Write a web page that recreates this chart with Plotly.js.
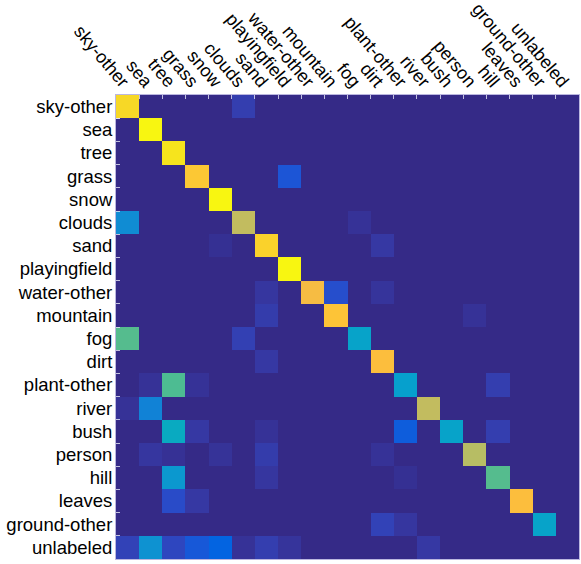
<!DOCTYPE html>
<html>
<head>
<meta charset="utf-8">
<script src="https://cdn.plot.ly/plotly-3.0.1.min.js"></script>
<style>
  html, body { margin: 0; padding: 0; background: #fff; }
  #graph { width: 581px; height: 564px; }
</style>
</head>
<body>
<div id="graph"></div>
<script>
// class labels (rows = true class, columns = predicted)
const classes = ['sky-other', 'sea', 'tree', 'grass', 'snow', 'clouds', 'sand', 'playingfield',
  'water-other', 'mountain', 'fog', 'dirt', 'plant-other', 'river', 'bush', 'person', 'hill',
  'leaves', 'ground-other', 'unlabeled']

// normalized confusion values
const confusion = [
  [0.92, 0, 0, 0, 0, 0.05, 0, 0, 0, 0, 0, 0, 0, 0, 0, 0, 0, 0, 0, 0],
  [0, 0.99, 0, 0, 0, 0, 0, 0, 0, 0, 0, 0, 0, 0, 0, 0, 0, 0, 0, 0],
  [0, 0, 0.95, 0, 0, 0, 0, 0, 0, 0, 0, 0, 0, 0, 0, 0, 0, 0, 0, 0],
  [0, 0, 0, 0.87, 0, 0, 0, 0.1, 0, 0, 0, 0, 0, 0, 0, 0, 0, 0, 0, 0],
  [0, 0, 0, 0, 0.99, 0, 0, 0, 0, 0, 0, 0, 0, 0, 0, 0, 0, 0, 0, 0],
  [0.28, 0, 0, 0, 0, 0.72, 0, 0, 0, 0, 0.02, 0, 0, 0, 0, 0, 0, 0, 0, 0],
  [0, 0, 0, 0, 0.015, 0, 0.9, 0, 0, 0, 0, 0.035, 0, 0, 0, 0, 0, 0, 0, 0],
  [0, 0, 0, 0, 0, 0, 0, 0.99, 0, 0, 0, 0, 0, 0, 0, 0, 0, 0, 0, 0],
  [0, 0, 0, 0, 0, 0, 0.03, 0, 0.825, 0.085, 0, 0.025, 0, 0, 0, 0, 0, 0, 0, 0],
  [0, 0, 0, 0, 0, 0, 0.045, 0, 0, 0.86, 0, 0, 0, 0, 0, 0.02, 0, 0, 0, 0],
  [0.55, 0, 0, 0, 0, 0.055, 0, 0, 0, 0, 0.365, 0, 0, 0, 0, 0, 0, 0, 0, 0],
  [0, 0, 0, 0, 0, 0, 0.035, 0, 0, 0, 0, 0.84, 0, 0, 0, 0, 0, 0, 0, 0],
  [0, 0.02, 0.54, 0.02, 0, 0, 0, 0, 0, 0, 0, 0, 0.35, 0, 0, 0, 0.05, 0, 0, 0],
  [0.02, 0.24, 0, 0, 0, 0, 0, 0, 0, 0, 0, 0, 0, 0.72, 0, 0, 0, 0, 0, 0],
  [0, 0, 0.4, 0.035, 0, 0, 0.02, 0, 0, 0, 0, 0, 0.115, 0, 0.365, 0, 0.05, 0, 0, 0],
  [0, 0.03, 0.018, 0, 0.022, 0, 0.045, 0, 0, 0, 0, 0.02, 0, 0, 0, 0.7, 0, 0, 0, 0],
  [0, 0, 0.32, 0, 0, 0, 0.03, 0, 0, 0, 0, 0, 0.015, 0, 0, 0, 0.55, 0, 0, 0],
  [0, 0, 0.08, 0.035, 0, 0, 0, 0, 0, 0, 0, 0, 0, 0, 0, 0, 0, 0.84, 0, 0],
  [0, 0, 0, 0, 0, 0, 0, 0, 0, 0, 0, 0.06, 0.03, 0, 0, 0, 0, 0, 0.365, 0],
  [0.06, 0.3, 0.07, 0.105, 0.13, 0.02, 0.05, 0.025, 0, 0, 0, 0, 0, 0.035, 0, 0, 0, 0, 0, 0]
]

// parula, sampled
const parula = [
  [0, 'rgb(53,42,135)'],
  [0.0317, 'rgb(54,55,160)'],
  [0.0635, 'rgb(50,67,186)'],
  [0.0952, 'rgb(32,83,212)'],
  [0.127, 'rgb(3,99,225)'],
  [0.1746, 'rgb(8,113,222)'],
  [0.2222, 'rgb(18,125,216)'],
  [0.2857, 'rgb(16,142,210)'],
  [0.3492, 'rgb(6,160,205)'],
  [0.4127, 'rgb(10,172,190)'],
  [0.4762, 'rgb(37,181,169)'],
  [0.5397, 'rgb(77,188,146)'],
  [0.6032, 'rgb(124,191,123)'],
  [0.6667, 'rgb(165,190,107)'],
  [0.7302, 'rgb(200,188,93)'],
  [0.7937, 'rgb(233,185,78)'],
  [0.8413, 'rgb(253,190,61)'],
  [0.8889, 'rgb(252,206,46)'],
  [0.9365, 'rgb(245,222,33)'],
  [1, 'rgb(249,251,14)']
]

const axisStyle = {
    type: 'category',
    tickson: 'boundaries',
    ticks: 'inside',
    ticklen: 4,
    tickwidth: 1,
    tickcolor: 'rgba(230,230,245,0.8)',
    showgrid: false,
    zeroline: false,
    showline: true,
    mirror: true,
    linewidth: 1,
    linecolor: 'rgba(170,165,215,0.8)',
    automargin: false,
    fixedrange: true,
    tickfont: { family: 'Liberation Sans, Arial, sans-serif', size: 18.5, color: '#000' }
}

const graphData = [
    {
        type: 'heatmap',
        x: classes,
        y: classes,
        z: confusion,
        zmin: 0,
        zmax: 1,
        colorscale: parula,
        showscale: false,
        hoverongaps: false
    }
]

const layout = {
    width: 581,
    height: 564,
    margin: { l: 116, r: 2, t: 95, b: 5 },
    paper_bgcolor: '#fff',
    plot_bgcolor: '#fff',
    xaxis: Object.assign({}, axisStyle, {
        side: 'top',
        tickangle: 50,
        ticklabelstandoff: -5,
        tickfont: { family: 'Liberation Sans, Arial, sans-serif', size: 18, color: '#000' }
    }),
    yaxis: Object.assign({}, axisStyle, { autorange: 'reversed', ticklabelstandoff: -1 })
};

Plotly.newPlot('graph', graphData, layout, { displayModeBar: false, staticPlot: true });
</script>
</body>
</html>
